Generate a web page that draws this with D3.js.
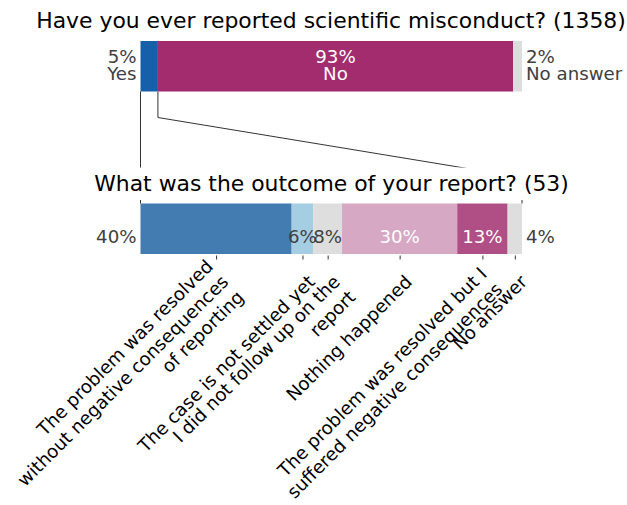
<!DOCTYPE html>
<html>
<head>
<meta charset="utf-8">
<script src="https://cdn.jsdelivr.net/npm/d3@7"></script>
<style>
  body { margin: 0; background: #fff; }
  text { font-family: "DejaVu Sans", sans-serif; }
</style>
</head>
<body>
<script>
// question 1
const q1Title = 'Have you ever reported scientific misconduct? (1358)'
const q1Categories = ['Yes', 'No', 'No answer']
const q1Counts = [62, 1264, 32]
const q1Colors = ['#1660a9', '#a22c6e', '#dddddd']

// question 2 (only those who answered yes)
const q2Title = 'What was the outcome of your report? (53)'
const q2Categories = [
  'The problem was resolved\nwithout negative consequences\nof reporting',
  'The case is not settled yet',
  '\nI did not follow up on the\nreport',
  'Nothing happened',
  'The problem was resolved but I\nsuffered negative consequences',
  'No answer'
]
const q2Counts = [21, 3, 4, 16, 7, 2]
const q2Colors = ['#437cb1', '#a6cee3', '#dedede', '#d6a8c4', '#b04e86', '#dedede']
const q2TextColors = ['#404040', '#404040', '#404040', '#ffffff', '#ffffff', '#404040']

const width = 627
const height = 505
const grey = '#404040'
const fs = 18.2
const titleFs = 21.9

const svg = d3.select('body').append('svg')
  .attr('width', width)
  .attr('height', height)

const x = d3.scaleLinear().domain([0, 1]).range([140.5, 522])

function stack (counts) {
  const total = d3.sum(counts)
  let acc = 0
  return counts.map(function (c) {
    const d = { x0: acc / total, x1: (acc + c) / total, pct: Math.round(c / total * 100) + '%' }
    acc += c
    return d
  })
}

const top1 = 41
const top2 = 203.5
const barH = 50.5

const s1 = stack(q1Counts)
const s2 = stack(q2Counts)

// bars
svg.append('g').selectAll('rect')
  .data(s1)
  .enter().append('rect')
  .attr('x', d => x(d.x0))
  .attr('width', d => x(d.x1) - x(d.x0))
  .attr('y', top1)
  .attr('height', barH)
  .attr('fill', (d, i) => q1Colors[i])

svg.append('g').selectAll('rect')
  .data(s2)
  .enter().append('rect')
  .attr('x', d => x(d.x0))
  .attr('width', d => x(d.x1) - x(d.x0))
  .attr('y', top2)
  .attr('height', barH)
  .attr('fill', (d, i) => q2Colors[i])

// connector from the "Yes" segment to the second bar
const yes = s1[0]
const y1 = top1 + barH
const line = d3.line()
svg.append('path')
  .attr('d', line([[x(yes.x0), y1], [x(0), top2]]))
  .attr('stroke', '#333').attr('stroke-width', 1).attr('fill', 'none')
svg.append('path')
  .attr('d', line([[x(yes.x1), y1], [x(yes.x1), y1 + 26], [x(1), top2 - 26], [x(1), top2]]))
  .attr('stroke', '#333').attr('stroke-width', 1).attr('fill', 'none')

// titles
svg.append('text')
  .attr('x', 331).attr('y', 28)
  .attr('text-anchor', 'middle')
  .style('font-size', titleFs + 'px')
  .attr('fill', '#000')
  .text(q1Title)

const t2g = svg.append('g')
const t2bg = t2g.append('rect').attr('fill', '#fff')
const t2 = t2g.append('text')
  .attr('x', 331.5).attr('y', 191)
  .attr('text-anchor', 'middle')
  .style('font-size', titleFs + 'px')
  .attr('fill', '#000')
  .text(q2Title)
const bb = t2.node().getBBox()
t2bg.attr('x', bb.x - 4).attr('y', 167.5)
  .attr('width', bb.width + 8).attr('height', 32.5)

// value labels on bar 1: percent + category
const mid1 = top1 + barH / 2
s1.forEach(function (d, i) {
  const last = i === s1.length - 1
  let xp, anchor, fill
  if (i === 0) { xp = x(d.x0) - 4; anchor = 'end'; fill = grey } else if (last) { xp = x(d.x1) + 4; anchor = 'start'; fill = grey } else { xp = (x(d.x0) + x(d.x1)) / 2; anchor = 'middle'; fill = '#fff' }
  const t = svg.append('text')
    .attr('text-anchor', anchor)
    .attr('fill', fill)
    .style('font-size', fs + 'px')
  t.append('tspan').attr('x', xp).attr('y', mid1 - 3).text(d.pct)
  t.append('tspan').attr('x', xp).attr('y', mid1 + 13.5).text(q1Categories[i])
})

// value labels on bar 2: percent only
const base2 = top2 + barH / 2 + 14.5
s2.forEach(function (d, i) {
  const last = i === s2.length - 1
  let xp, anchor
  if (i === 0) { xp = x(d.x0) - 4; anchor = 'end' } else if (last) { xp = x(d.x1) + 4; anchor = 'start' } else { xp = (x(d.x0) + x(d.x1)) / 2; anchor = 'middle' }
  svg.append('text')
    .attr('x', xp).attr('y', base2)
    .attr('text-anchor', anchor)
    .attr('fill', (i === 0 || last) ? grey : q2TextColors[i])
    .style('font-size', fs + 'px')
    .text(d.pct)
})

// axis with ticks at segment centres
const mids = s2.map(d => (d.x0 + d.x1) / 2)
const axisY = top2 + barH + 1.5
const axis = svg.append('g')
  .attr('transform', 'translate(0,' + axisY + ')')
  .call(d3.axisBottom(x).tickValues(mids).tickSize(4).tickFormat(''))
axis.select('.domain').remove()
axis.selectAll('.tick line').attr('stroke', '#333')

// rotated category labels: right end, vertically centred block, turned 45 degrees
const lh = fs * 1.2
q2Categories.forEach(function (cat, i) {
  const lines = cat.split('\n')
  const blockH = (lines.length - 1) * lh + fs * 1.164
  const g = svg.append('g')
    .attr('transform', 'translate(' + (x(mids[i]) + 9) + ',' + (axisY + 23) + ') rotate(-45)')
  const t = g.append('text')
    .attr('text-anchor', 'end')
    .attr('fill', '#000')
    .style('font-size', fs + 'px')
  lines.forEach(function (ln, j) {
    if (ln) t.append('tspan').attr('x', 0).attr('y', -blockH / 2 + fs * 0.928 + j * lh).text(ln)
  })
})
</script>
</body>
</html>
